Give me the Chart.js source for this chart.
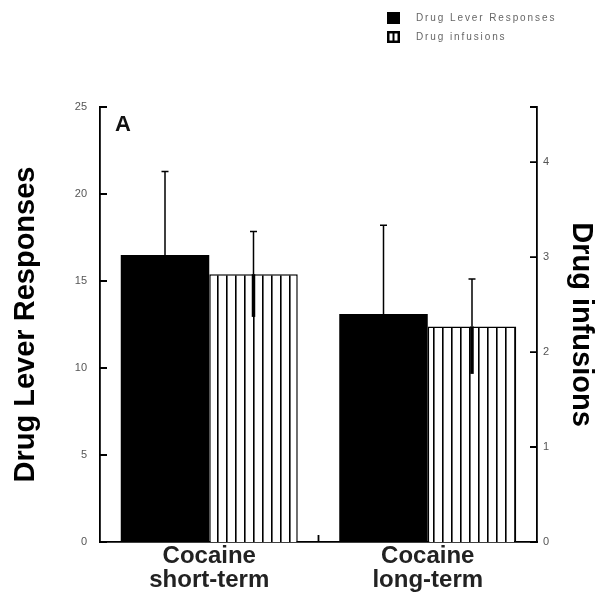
<!DOCTYPE html>
<html>
<head>
<meta charset="utf-8">
<script src="https://cdn.jsdelivr.net/npm/chart.js@4/dist/chart.umd.min.js"></script>
<style>
  body { margin: 0; background: #fff; }
  #wrap { width: 604px; height: 600px; }
</style>
</head>
<body>
<div id="wrap"><canvas id="fig" width="604" height="600"></canvas></div>
<script>
// datos
const categories = [['Cocaine', 'short-term'], ['Cocaine', 'long-term']];
const leverResponses = [16.5, 13.1];
const leverErr = [4.8, 5.1];
const infusions = [2.82, 2.27];
const infusionsErr = [0.45, 0.5];
const leftTicks = [0, 5, 10, 15, 20, 25];
const rightTicks = [0, 1, 2, 3, 4];
const seriesNames = ['Drug Lever Responses', 'Drug infusions'];

const FONT = "'Liberation Sans', Arial, Helvetica, sans-serif";

// patron de rayas verticales
function makeStripes() {
    const c = document.createElement('canvas');
    c.width = 9; c.height = 10;
    const g = c.getContext('2d');
    g.fillStyle = '#fff';
    g.fillRect(0, 0, 9, 10);
    g.fillStyle = '#000';
    g.fillRect(1, 0, 1.6, 10);
    return g.createPattern(c, 'repeat');
}
const stripes = makeStripes();

// marcas hacia dentro, barras de error, letra A y leyenda
const extras = {
    id: 'extras',
    afterDatasetsDraw(chart) {
        const ctx = chart.ctx;
        const area = chart.chartArea;
        const ys = chart.scales.y, yr = chart.scales.y1;
        ctx.save();
        ctx.strokeStyle = '#000';

        // barras de error
        const sets = [[leverResponses, leverErr, ys, false], [infusions, infusionsErr, yr, true]];
        sets.forEach((s, i) => {
            const meta = chart.getDatasetMeta(i);
            meta.data.forEach((bar, j) => {
                const x = bar.x;
                const top = s[2].getPixelForValue(s[0][j] + s[1][j]);
                const base = s[2].getPixelForValue(s[0][j]);
                ctx.lineWidth = 1.5;
                ctx.beginPath();
                ctx.moveTo(x, base); ctx.lineTo(x, top);
                ctx.moveTo(x - 3.5, top); ctx.lineTo(x + 3.5, top);
                ctx.stroke();
                if (s[3]) {
                    const low = s[2].getPixelForValue(s[0][j] - s[1][j]);
                    ctx.lineWidth = 3.5;
                    ctx.beginPath();
                    ctx.moveTo(x, base); ctx.lineTo(x, low);
                    ctx.stroke();
                }
            });
        });

        // marcas hacia dentro
        ctx.lineWidth = 1.8;
        ctx.beginPath();
        leftTicks.forEach(v => {
            const y = ys.getPixelForValue(v);
            ctx.moveTo(area.left, y); ctx.lineTo(area.left + 7, y);
        });
        rightTicks.concat([yr.max]).forEach(v => {
            const y = yr.getPixelForValue(v);
            ctx.moveTo(area.right, y); ctx.lineTo(area.right - 7, y);
        });
        const xs = chart.scales.x;
        const mid = (xs.getPixelForValue(0) + xs.getPixelForValue(1)) / 2;
        ctx.moveTo(mid, area.bottom); ctx.lineTo(mid, area.bottom - 7);
        ctx.stroke();

        // letra del panel
        ctx.fillStyle = '#111';
        ctx.font = 'bold 22px ' + FONT;
        ctx.textBaseline = 'middle';
        ctx.fillText('A', area.left + 15, area.top + 18);

        // leyenda
        ctx.fillStyle = '#000';
        ctx.fillRect(387, 12, 13, 12);
        ctx.fillRect(387, 31, 13, 12);
        ctx.fillStyle = '#fff';
        ctx.fillRect(389.5, 33.5, 3, 7);
        ctx.fillRect(394.5, 33.5, 3, 7);
        ctx.fillStyle = '#666';
        ctx.font = '10px ' + FONT;
        ctx.letterSpacing = '1.9px';
        ctx.fillText(seriesNames[0], 416, 18);
        ctx.fillText(seriesNames[1], 416, 37);
        ctx.restore();
    }
};

const chart = new Chart(document.getElementById('fig').getContext('2d'), {
    type: 'bar',
    data: {
        labels: categories,
        datasets: [{
            label: seriesNames[0],
            data: leverResponses,
            yAxisID: 'y',
            backgroundColor: '#000',
            borderColor: '#000',
            borderWidth: 0,
            categoryPercentage: 0.81,
            barPercentage: 1.0
        }, {
            label: seriesNames[1],
            data: infusions,
            yAxisID: 'y1',
            backgroundColor: stripes,
            borderColor: '#000',
            borderWidth: 1.5,
            categoryPercentage: 0.81,
            barPercentage: 1.0
        }]
    },
    options: {
        responsive: false,
        devicePixelRatio: 1,
        animation: false,
        layout: { padding: { top: 107, left: 0, right: 0, bottom: 0 } },
        plugins: {
            legend: { display: false },
            tooltip: { enabled: false }
        },
        scales: {
            x: {
                grid: { display: false, drawTicks: false },
                border: { display: true, color: '#000', width: 1.8 },
                ticks: {
                    color: '#222',
                    padding: 2,
                    font: { family: FONT, size: 24, weight: 'bold', lineHeight: 1.0 }
                },
                afterFit(s) { s.height = 58; }
            },
            y: {
                position: 'left',
                min: 0, max: 25,
                grid: { display: false, drawTicks: false },
                border: { display: true, color: '#000', width: 1.8 },
                ticks: {
                    stepSize: 5,
                    padding: 13,
                    color: '#555',
                    font: { family: FONT, size: 11 }
                },
                title: {
                    display: true,
                    text: 'Drug Lever Responses',
                    color: '#000',
                    padding: { top: 9, bottom: 0 },
                    font: { family: FONT, size: 29, weight: 'bold' }
                },
                afterFit(s) { s.width = 100; }
            },
            y1: {
                position: 'right',
                min: 0, max: 4.58,
                grid: { display: false, drawTicks: false },
                border: { display: true, color: '#000', width: 1.8 },
                ticks: {
                    stepSize: 1,
                    padding: 6,
                    color: '#555',
                    font: { family: FONT, size: 11 },
                    callback: v => Number.isInteger(v) ? v : ''
                },
                title: {
                    display: true,
                    text: 'Drug infusions',
                    color: '#000',
                    padding: { top: 6, bottom: 0 },
                    font: { family: FONT, size: 29, weight: 'bold' }
                },
                afterFit(s) { s.width = 67; }
            }
        }
    },
    plugins: [extras]
});
</script>
</body>
</html>
